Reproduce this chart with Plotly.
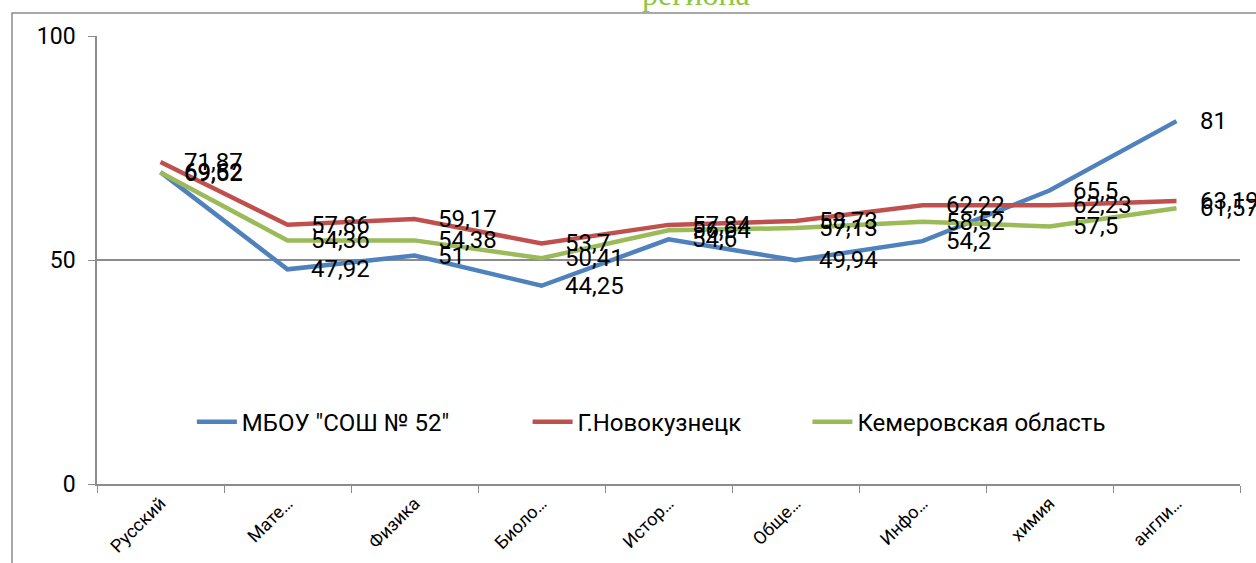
import plotly.graph_objects as go

categories = ["Русский", "Мате…", "Физика", "Биоло…", "Истор…", "Обще…", "Инфо…", "химия", "англи…"]
series_names = ['МБОУ "СОШ № 52"', "Г.Новокузнецк", "Кемеровская область"]
school = [69.62, 47.92, 51, 44.25, 54.6, 49.94, 54.2, 65.5, 81]
city = [71.87, 57.86, 59.17, 53.7, 57.84, 58.73, 62.22, 62.23, 63.19]
region = [69.52, 54.36, 54.38, 50.41, 56.64, 57.13, 58.52, 57.5, 61.57]
y_ticks = [0, 50, 100]
title_text = "региона"

colors = ["#4F81BD", "#C0504D", "#9BBB59"]
all_series = [school, city, region]
# trailing spacing after legend entries (reproduces wide gaps between items)
legend_pad = ["\u2003\u2003\u2003", "\u2003\u2003\u2002", ""]

FONT = "Roboto"

fig = go.Figure()
for name, vals, col, pad in zip(series_names, all_series, colors, legend_pad):
    fig.add_trace(go.Scatter(
        x=categories, y=vals, name=name + pad, mode="lines",
        line=dict(color=col, width=4.5),
        hoverinfo="skip",
    ))

def fmt(v):
    return ("%g" % v).replace(".", ",")

annotations = []
for vals in all_series:
    for c, v in zip(categories, vals):
        annotations.append(dict(
            x=c, y=v, xref="x", yref="y", text=fmt(v),
            showarrow=False, xanchor="left", yanchor="middle",
            xshift=21, font=dict(family=FONT, size=24, color="#000000"),
        ))

annotations.append(dict(
    x=0.524, y=1.05, xref="paper", yref="paper", text=title_text,
    showarrow=False, xanchor="center", yanchor="bottom",
    font=dict(family="Liberation Serif", size=32, color="#8DC63F"),
))

fig.update_layout(
    width=1256, height=563,
    margin=dict(l=97, r=16, t=36, b=79, autoexpand=False),
    paper_bgcolor="white", plot_bgcolor="white",
    font=dict(family=FONT, color="#000000"),
    annotations=annotations,
    showlegend=True,
    legend=dict(
        orientation="h", x=0.083, y=0.138, xanchor="left", yanchor="middle",
        font=dict(family=FONT, size=24, color="#000000"),
        bgcolor="rgba(0,0,0,0)", itemwidth=40,
    ),
    shapes=[dict(
        type="rect", xref="paper", yref="paper",
        x0=(12 - 97) / 1143, x1=1.2, y0=-0.5, y1=1 + (36 - 13) / 448,
        line=dict(color="#8C8C8C", width=1.5), fillcolor="rgba(0,0,0,0)",
        layer="below",
    )],
)

fig.update_xaxes(
    type="category", range=[-0.5, 8.5], tickson="boundaries",
    ticks="outside", ticklen=7, tickcolor="#8C8C8C",
    showline=True, linecolor="#8C8C8C", linewidth=1.5,
    showgrid=False, tickangle=-45, tickfont=dict(family=FONT, size=18),
    automargin=False,
)
fig.update_yaxes(
    range=[0, 100], tickvals=y_ticks, ticks="outside", ticklen=7,
    tickcolor="#8C8C8C", showline=True, linecolor="#8C8C8C", linewidth=1.5,
    showgrid=True, gridcolor="#8C8C8C", gridwidth=1.5, zeroline=False,
    tickfont=dict(family=FONT, size=23), ticklabelstandoff=8,
    automargin=False,
)

fig.write_html(
    "out.html",
    config={"displayModeBar": False},
    post_script="document.body.style.margin='0';document.body.style.overflow='hidden';",
)
